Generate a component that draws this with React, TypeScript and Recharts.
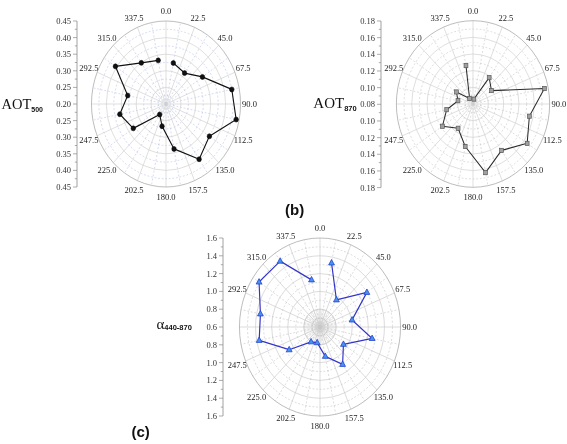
import React from 'react';
import {
  RadarChart,
  Radar,
  PolarGrid,
  PolarAngleAxis,
  PolarRadiusAxis,
  LineChart,
  Line,
  XAxis,
  YAxis,
} from 'recharts';

// ---------------- data ----------------
// compass directions of the grid spokes / labels
const COMPASS = [0, 22.5, 45, 67.5, 90, 112.5, 135, 157.5, 180, 202.5, 225, 247.5, 270, 292.5, 315, 337.5];
// labelled compass directions (270.0 is hidden behind the value axis)
const DIRECTION_LABELS = [0, 22.5, 45, 67.5, 90, 112.5, 135, 157.5, 180, 202.5, 225, 247.5, 292.5, 315, 337.5];
// sector mid directions where the values are plotted
const SECTORS = [11.25, 33.75, 56.25, 78.75, 101.25, 123.75, 146.25, 168.75, 191.25, 213.75, 236.25, 258.75, 281.25, 303.75, 326.25, 348.75];

const AOT500 = [0.326, 0.312, 0.347, 0.425, 0.44, 0.375, 0.4, 0.338, 0.268, 0.238, 0.332, 0.358, 0.331, 0.404, 0.349, 0.334];
const AOT870 = [0.086, 0.118, 0.109, 0.175, 0.155, 0.165, 0.147, 0.164, 0.132, 0.115, 0.128, 0.115, 0.1, 0.106, 0.088, 0.127];
const ALPHA = [1.334, 0.967, 1.3, 1.006, 1.26, 0.95, 1.105, 0.936, 0.78, 0.8, 1.06, 1.37, 1.354, 1.51, 1.49, 1.14];

// value-axis tick labels, top to bottom
const AOT500_TICKS = [0.45, 0.4, 0.35, 0.3, 0.25, 0.2, 0.25, 0.3, 0.35, 0.4, 0.45];
const AOT870_TICKS = [0.18, 0.16, 0.14, 0.12, 0.1, 0.08, 0.1, 0.12, 0.14, 0.16, 0.18];
const ALPHA_TICKS = [1.6, 1.4, 1.2, 1.0, 0.8, 0.6, 0.8, 1.0, 1.2, 1.4, 1.6];

// ---------------- style ----------------
const SERIF = '"Liberation Serif", "Times New Roman", serif';
const SANS = '"Liberation Sans", Arial, sans-serif';

type MarkerKind = 'circle' | 'square' | 'triangle';
interface PanelCfg {
  cx: number; cy: number; r: number; sx: number;
  domain: [number, number];
  values: number[];
  line: string; lineWidth: number;
  marker: MarkerKind; markerFill: string; markerStroke: string;
  majorStroke: string; minorStroke: string; outerStroke: string;
  dense?: boolean;
}

function drawMarker(kind: MarkerKind, x: number, y: number, fill: string, stroke: string, key: number) {
  if (kind === 'circle') return <circle key={key} cx={x} cy={y} r={2.5} fill={fill} stroke={stroke} strokeWidth={0.6} />;
  if (kind === 'square') return <rect key={key} x={x - 2.1} y={y - 2.1} width={4.2} height={4.2} fill={fill} stroke={stroke} strokeWidth={0.7} />;
  const s = 3.4;
  return <path key={key} d={`M${x},${y - s}L${x + s * 0.95},${y + s * 0.6}L${x - s * 0.95},${y + s * 0.6}Z`} fill={fill} stroke={stroke} strokeWidth={0.8} />;
}

const PW = 280;
const PH = 250;
const NO_MARGIN = { top: 0, right: 0, bottom: 0, left: 0 };

function PolarPanel({ cfg }: { cfg: PanelCfg }) {
  const ccx = PW / 2;
  const ccy = PH / 2;
  const R = cfg.r;
  const rows = SECTORS.map((a, i) => ({ angle: a, v: cfg.values[i] }));
  const labelRows = COMPASS.map((a) => ({ angle: a }));
  const majorR = [1, 2, 3, 4].map((i) => (R * i) / 5);
  const minorR = [1, 2, 3, 4, 5].map((i) => (R * (i - 0.5)) / 5);
  const majorA = COMPASS.map((a) => 90 - a);
  const minorA = SECTORS.map((a) => 90 - a);
  const denseA: number[] = [];
  for (let d = 0; d < 360; d += 7.5) denseA.push(d);
  // first sector mid sits 11.25 deg clockwise from north
  const start = 90 - SECTORS[0];

  const shape = (props: any) => {
    const pts = (props.points || []).filter((p: any) => p && Number.isFinite(p.x) && Number.isFinite(p.y));
    const d = pts.map((p: any, i: number) => `${i === 0 ? 'M' : 'L'}${p.x},${p.y}`).join(' ');
    return (
      <g>
        <path d={d} fill="none" stroke={cfg.line} strokeWidth={cfg.lineWidth} strokeLinejoin="round" />
        {pts.map((p: any, i: number) => drawMarker(cfg.marker, p.x, p.y, cfg.markerFill, cfg.markerStroke, i))}
      </g>
    );
  };

  // labels are drawn in an un-scaled layer, placed on the ellipse
  const angleTick = (props: any) => {
    const { x, y, payload } = props;
    const a = payload?.value;
    if (!DIRECTION_LABELS.includes(a)) return <g />;
    const ex = ccx + (x - ccx) * cfg.sx;
    return (
      <text x={ex} y={y} textAnchor="middle" dominantBaseline="central" fontSize={8.5} fontFamily={SERIF} fill="#222">
        {Number(a).toFixed(1)}
      </text>
    );
  };

  return (
    <div style={{ position: 'absolute', left: cfg.cx - ccx, top: cfg.cy - ccy, width: PW, height: PH }}>
      <div style={{ position: 'absolute', left: 0, top: 0, width: PW, height: PH, transform: `scaleX(${cfg.sx})`, transformOrigin: `${ccx}px ${ccy}px` }}>
        {cfg.dense && (
          <div style={{ position: 'absolute', left: 0, top: 0 }}>
            <RadarChart width={PW} height={PH} cx={ccx} cy={ccy} outerRadius={R * 0.2} data={rows} margin={NO_MARGIN}>
              <PolarGrid gridType="circle" polarAngles={denseA} polarRadius={[R * 0.1, R * 0.2]} stroke="#c4c4c4" strokeWidth={0.4} />
            </RadarChart>
          </div>
        )}
        <div style={{ position: 'absolute', left: 0, top: 0 }}>
          <RadarChart width={PW} height={PH} cx={ccx} cy={ccy} outerRadius={R} startAngle={start} endAngle={start - 360} data={rows} margin={NO_MARGIN}>
            <PolarGrid gridType="circle" polarAngles={minorA} polarRadius={minorR} stroke={cfg.minorStroke} strokeWidth={0.6} strokeDasharray="2 2" />
            <PolarGrid gridType="circle" polarAngles={majorA} polarRadius={majorR} stroke={cfg.majorStroke} strokeWidth={0.7} />
            <PolarGrid gridType="circle" radialLines={false} polarAngles={[]} polarRadius={[R]} stroke={cfg.outerStroke} strokeWidth={0.8} />
            <PolarAngleAxis dataKey="angle" tick={false} tickLine={false} axisLine={false} />
            <PolarRadiusAxis
              type="number"
              scale="linear"
              domain={cfg.domain}
              allowDataOverflow
              allowDecimals
              tickCount={6}
              tick={false}
              axisLine={false}
              tickLine={false}
            />
            <Radar dataKey="v" isAnimationActive={false} shape={shape} dot={false} />
          </RadarChart>
        </div>
      </div>
      <div style={{ position: 'absolute', left: 0, top: 0, willChange: 'transform' }}>
        <RadarChart width={PW} height={PH} cx={ccx} cy={ccy} outerRadius={R} data={labelRows} margin={NO_MARGIN}>
          <PolarAngleAxis dataKey="angle" tick={angleTick} tickLine={false} axisLine={false} tickSize={10} />
        </RadarChart>
      </div>
    </div>
  );
}

function ValueAxis({ ax, top, bottom, labels, digits }: { ax: number; top: number; bottom: number; labels: number[]; digits: number }) {
  const W = 40;
  const n = labels.length - 1;
  const positions: number[] = [];
  for (let i = 0; i <= 2 * n; i++) positions.push(i / 2);
  const data = labels.map((_, i) => ({ i, pos: i }));
  const tick = (p: any) => {
    const v = p.payload?.value as number;
    const major = Number.isInteger(v);
    return (
      <g>
        <line x1={W - (major ? 4 : 2.2)} x2={W} y1={p.y} y2={p.y} stroke="#8a8a8a" strokeWidth={0.7} />
        {major && (
          <text x={W - 6} y={p.y} textAnchor="end" dominantBaseline="central" fontSize={8.5} fontFamily={SERIF} fill="#333">
            {labels[v].toFixed(digits)}
          </text>
        )}
      </g>
    );
  };
  return (
    <div style={{ position: 'absolute', left: ax - W, top: top - 10 }}>
      <LineChart width={W + 2} height={bottom - top + 20} data={data} margin={{ top: 10, bottom: 10, left: 0, right: 2 }}>
        <XAxis hide dataKey="i" />
        <YAxis type="number" domain={[0, n]} allowDataOverflow ticks={positions} reversed width={W} interval={0} tickLine={false} tickSize={0} tickMargin={0} axisLine={{ stroke: '#8a8a8a', strokeWidth: 0.8 }} tick={tick} />
        <Line dataKey="pos" stroke="none" dot={false} isAnimationActive={false} />
      </LineChart>
    </div>
  );
}

const PANEL_A: PanelCfg = {
  cx: 166, cy: 103.7, r: 83, sx: 0.898, domain: [0.2, 0.45], values: AOT500,
  line: '#111', lineWidth: 1.2, marker: 'circle', markerFill: '#111', markerStroke: '#000',
  majorStroke: '#cfcfcf', minorStroke: '#b9c0e2', outerStroke: '#a8a8a8',
};
const PANEL_B: PanelCfg = {
  cx: 472.7, cy: 104.3, r: 83.3, sx: 0.92, domain: [0.08, 0.18], values: AOT870,
  line: '#2a2a2a', lineWidth: 1.1, marker: 'square', markerFill: '#a0a0a0', markerStroke: '#555',
  majorStroke: '#d0d0d0', minorStroke: '#c4c4c4', outerStroke: '#a8a8a8',
};
const PANEL_C: PanelCfg = {
  cx: 320.3, cy: 327.3, r: 89, sx: 0.905, domain: [0.6, 1.6], values: ALPHA,
  line: '#3434c8', lineWidth: 1.3, marker: 'triangle', markerFill: '#4a92ee', markerStroke: '#1f40d0',
  majorStroke: '#c8c8c8', minorStroke: '#c0c0c0', outerStroke: '#a8a8a8', dense: true,
};

export default function App() {
  return (
    <div style={{ position: 'absolute', left: 0, top: 0, width: 567, height: 444, background: '#fff', overflow: 'hidden' }}>
      <PolarPanel cfg={PANEL_A} />
      <PolarPanel cfg={PANEL_B} />
      <PolarPanel cfg={PANEL_C} />
      <ValueAxis ax={76.7} top={20.7} bottom={186.7} labels={AOT500_TICKS} digits={2} />
      <ValueAxis ax={381} top={21} bottom={187.6} labels={AOT870_TICKS} digits={2} />
      <ValueAxis ax={223.3} top={238.3} bottom={416.3} labels={ALPHA_TICKS} digits={1} />
      <svg width={567} height={444} style={{ position: 'absolute', left: 0, top: 0, pointerEvents: 'none' }}>
        <text x={1.5} y={108.5} fontFamily={SERIF} fontSize={14.5} fill="#111">
          AOT<tspan fontFamily={SANS} fontWeight="bold" fontSize={7} dy={3}>500</tspan>
        </text>
        <text x={313.3} y={108} fontFamily={SERIF} fontSize={15} fill="#111">
          AOT<tspan fontFamily={SANS} fontWeight="bold" fontSize={7.5} dy={3}>870</tspan>
        </text>
        <text x={156.5} y={328.5} fontFamily={SERIF} fontSize={15} fill="#111">
          α<tspan fontFamily={SANS} fontWeight="bold" fontSize={7.5} dy={1}>440-870</tspan>
        </text>
        <text x={285} y={214.5} fontFamily={SANS} fontWeight="bold" fontSize={15} fill="#111">(b)</text>
        <text x={131.5} y={437} fontFamily={SANS} fontWeight="bold" fontSize={15} fill="#111">(c)</text>
      </svg>
    </div>
  );
}
